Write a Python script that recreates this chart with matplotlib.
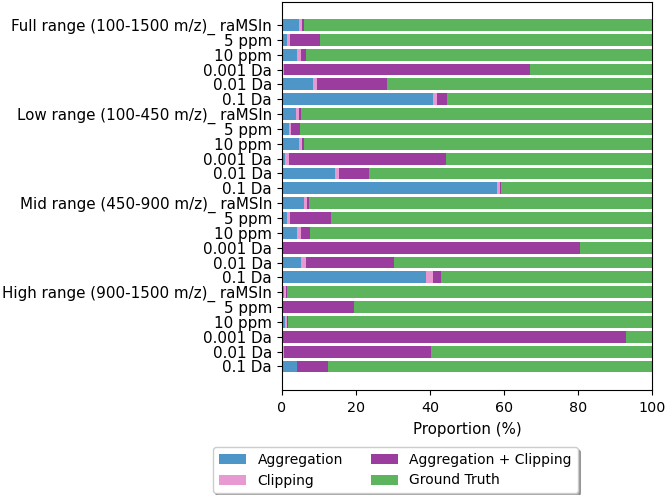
import numpy as np
import matplotlib.pyplot as plt

labels = [
    'Full range (100-1500 m/z)_ raMSIn', '5 ppm', '10 ppm', '0.001 Da', '0.01 Da', '0.1 Da',
    'Low range (100-450 m/z)_ raMSIn', '5 ppm', '10 ppm', '0.001 Da', '0.01 Da', '0.1 Da',
    'Mid range (450-900 m/z)_ raMSIn', '5 ppm', '10 ppm', '0.001 Da', '0.01 Da', '0.1 Da',
    'High range (900-1500 m/z)_ raMSIn', '5 ppm', '10 ppm', '0.001 Da', '0.01 Da', '0.1 Da',
]

aggregation = [4.8, 1.5, 4.2, 0.2, 8.4, 40.9,
               3.8, 2.0, 4.8, 1.0, 14.3, 58.2,
               6.0, 1.5, 4.0, 0.1, 5.1, 39.0,
               0.6, 0.0, 0.8, 0.0, 0.2, 4.0]
clipping = [0.6, 0.7, 1.0, 0.3, 1.2, 1.1,
            0.8, 0.6, 0.8, 0.9, 1.1, 0.6,
            0.7, 0.7, 1.2, 0.1, 1.4, 1.8,
            0.6, 0.1, 0.5, 0.1, 0.4, 0.1]
agg_clip = [0.6, 8.0, 1.3, 66.6, 18.8, 2.5,
            0.5, 2.4, 0.5, 42.5, 8.2, 0.5,
            0.7, 11.0, 2.4, 80.4, 23.9, 2.3,
            0.1, 19.4, 0.5, 92.9, 39.7, 8.5]

agg = np.array(aggregation)
clip = np.array(clipping)
ac = np.array(agg_clip)
ground = 100 - agg - clip - ac

fig = plt.figure(figsize=(6.66, 4.95), dpi=100)
ax = fig.add_axes([281.7 / 666, 1 - 389.5 / 495, 370.6 / 666, 387.5 / 495])

y = np.arange(len(labels))
h = 0.8
ax.barh(y, agg, height=h, color='#4f96c8', label='Aggregation')
ax.barh(y, clip, left=agg, height=h, color='#e899d2', label='Clipping')
ax.barh(y, ac, left=agg + clip, height=h, color='#9a3d9e', label='Aggregation + Clipping')
ax.barh(y, ground, left=agg + clip + ac, height=h, color='#5cb55c', label='Ground Truth')

ax.set_yticks(y)
ax.set_yticklabels(labels, fontsize=10.9)
ax.set_ylim(len(labels) - 1 + 1.55, -1.55)
ax.set_xlim(0, 100)
ax.set_xticks([0, 20, 40, 60, 80, 100])
ax.tick_params(axis='x', labelsize=10.3, pad=5)
ax.set_xlabel('Proportion (%)', fontsize=10.8, labelpad=5)

handles, leg_labels = ax.get_legend_handles_labels()
fig.legend(handles, leg_labels, ncol=2, fontsize=10, shadow=True,
           loc='upper left', bbox_to_anchor=(213 / 666, 1 - 447 / 495),
           borderaxespad=0, edgecolor='#cccccc')

fig.savefig('out.png', dpi=100)
